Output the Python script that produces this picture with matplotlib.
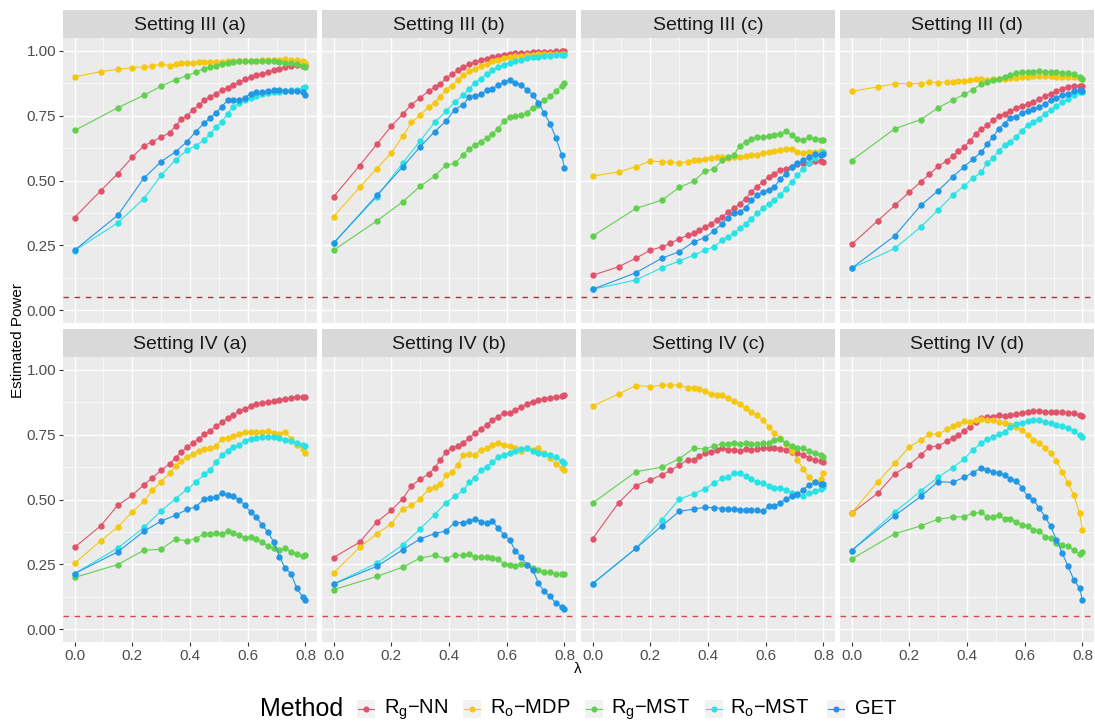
import matplotlib
matplotlib.use('Agg')
import matplotlib.pyplot as plt
from matplotlib.lines import Line2D
from matplotlib.patches import Rectangle

plt.rcParams['font.family'] = ['Liberation Sans', 'DejaVu Sans']
plt.rcParams['mathtext.fontset'] = 'custom'
plt.rcParams['mathtext.rm'] = 'Liberation Sans'
plt.rcParams['mathtext.it'] = 'Liberation Sans:italic'

# lambda grids (R_g-NN / R_o-MDP use the finer one at the start)
lam_a = [0, 0.09, 0.15, 0.2, 0.24, 0.27, 0.3, 0.33, 0.35, 0.37, 0.39, 0.41, 0.43, 0.45, 0.47, 0.49,
         0.51, 0.53, 0.55, 0.57, 0.59, 0.61, 0.63, 0.65, 0.67, 0.69, 0.71, 0.73, 0.75, 0.77, 0.79, 0.8]
lam_b = [0, 0.15, 0.24, 0.3, 0.35, 0.39, 0.42, 0.45, 0.47, 0.49, 0.51, 0.53, 0.55,
         0.57, 0.59, 0.61, 0.63, 0.65, 0.67, 0.69, 0.71, 0.73, 0.75, 0.77, 0.79, 0.8]

methods = [r'$\mathrm{R_g}$' + '\u2212NN', r'$\mathrm{R_o}$' + '\u2212MDP', r'$\mathrm{R_g}$' + '\u2212MST',
           r'$\mathrm{R_o}$' + '\u2212MST', 'GET']
colors = ['#DF536B', '#F5C710', '#61D04F', '#28E2E5', '#2297E6']
titles = ['Setting III (a)', 'Setting III (b)', 'Setting III (c)', 'Setting III (d)',
          'Setting IV (a)', 'Setting IV (b)', 'Setting IV (c)', 'Setting IV (d)']

# ---- Setting III (a)
s3a_nn = [0.357, 0.46, 0.527, 0.59, 0.634, 0.65, 0.667, 0.685, 0.71, 0.738, 0.748, 0.774, 0.79, 0.81, 0.823, 0.835,
          0.848, 0.858, 0.869, 0.88, 0.89, 0.9, 0.907, 0.912, 0.919, 0.925, 0.932, 0.938, 0.943, 0.946, 0.943, 0.945]
s3a_mdp = [0.90, 0.92, 0.929, 0.936, 0.938, 0.941, 0.95, 0.943, 0.948, 0.952, 0.955, 0.955, 0.956, 0.957, 0.957, 0.958,
           0.959, 0.96, 0.96, 0.961, 0.962, 0.962, 0.963, 0.964, 0.965, 0.966, 0.967, 0.968, 0.967, 0.965, 0.962, 0.955]
s3a_gmst = [0.693, 0.781, 0.829, 0.864, 0.889, 0.905, 0.918, 0.932, 0.938, 0.943, 0.951, 0.955, 0.958,
            0.96, 0.96, 0.961, 0.962, 0.962, 0.961, 0.96, 0.958, 0.955, 0.952, 0.948, 0.943, 0.937]
s3a_omst = [0.229, 0.337, 0.43, 0.52, 0.58, 0.617, 0.635, 0.656, 0.68, 0.705, 0.726, 0.758, 0.784,
            0.80, 0.81, 0.82, 0.828, 0.834, 0.838, 0.84, 0.842, 0.845, 0.848, 0.85, 0.856, 0.86]
s3a_get = [0.231, 0.366, 0.509, 0.573, 0.611, 0.65, 0.689, 0.722, 0.743, 0.761, 0.784, 0.81, 0.812,
           0.81, 0.82, 0.835, 0.84, 0.84, 0.845, 0.848, 0.85, 0.845, 0.845, 0.845, 0.84, 0.83]

# ---- Setting III (b)
s3b_nn = [0.437, 0.557, 0.64, 0.71, 0.756, 0.793, 0.819, 0.846, 0.859, 0.871, 0.896, 0.91, 0.925, 0.938, 0.949, 0.956,
          0.964, 0.97, 0.977, 0.982, 0.986, 0.99, 0.991, 0.993, 0.994, 0.995, 0.996, 0.997, 0.997, 0.998, 0.998, 0.998]
s3b_mdp = [0.361, 0.473, 0.546, 0.607, 0.67, 0.724, 0.752, 0.784, 0.80, 0.823, 0.851, 0.866, 0.887, 0.906, 0.922, 0.932,
           0.941, 0.951, 0.96, 0.967, 0.973, 0.976, 0.979, 0.982, 0.984, 0.986, 0.987, 0.988, 0.99, 0.99, 0.99, 0.99]
s3b_gmst = [0.231, 0.344, 0.418, 0.478, 0.517, 0.56, 0.566, 0.60, 0.622, 0.638, 0.65, 0.665, 0.68,
            0.70, 0.728, 0.745, 0.748, 0.752, 0.762, 0.78, 0.79, 0.81, 0.825, 0.845, 0.866, 0.877]
s3b_omst = [0.26, 0.437, 0.568, 0.653, 0.724, 0.767, 0.803, 0.829, 0.855, 0.877, 0.893, 0.91, 0.925,
            0.938, 0.947, 0.955, 0.962, 0.967, 0.972, 0.976, 0.978, 0.98, 0.982, 0.983, 0.984, 0.985]
s3b_get = [0.257, 0.443, 0.553, 0.63, 0.688, 0.73, 0.774, 0.793, 0.823, 0.828, 0.832, 0.848, 0.855,
           0.868, 0.88, 0.887, 0.877, 0.868, 0.85, 0.83, 0.80, 0.76, 0.72, 0.665, 0.60, 0.549]

# ---- Setting III (c)
s3c_nn = [0.134, 0.167, 0.2, 0.231, 0.244, 0.257, 0.275, 0.288, 0.298, 0.308, 0.321, 0.334, 0.347, 0.36, 0.38, 0.392,
          0.411, 0.43, 0.456, 0.476, 0.495, 0.514, 0.527, 0.54, 0.546, 0.553, 0.562, 0.566, 0.569, 0.575, 0.576, 0.572]
s3c_mdp = [0.517, 0.533, 0.553, 0.575, 0.572, 0.571, 0.567, 0.573, 0.578, 0.581, 0.582, 0.585, 0.591, 0.589, 0.585, 0.589,
           0.591, 0.594, 0.598, 0.60, 0.607, 0.61, 0.614, 0.617, 0.623, 0.62, 0.61, 0.607, 0.61, 0.61, 0.614, 0.61]
s3c_gmst = [0.285, 0.392, 0.424, 0.473, 0.497, 0.537, 0.544, 0.578, 0.589, 0.60, 0.634, 0.647, 0.662,
            0.668, 0.666, 0.671, 0.675, 0.681, 0.69, 0.675, 0.662, 0.655, 0.666, 0.662, 0.658, 0.655]
s3c_omst = [0.08, 0.116, 0.163, 0.189, 0.212, 0.231, 0.244, 0.27, 0.283, 0.296, 0.315, 0.334, 0.353,
            0.373, 0.392, 0.411, 0.424, 0.443, 0.469, 0.495, 0.52, 0.546, 0.566, 0.585, 0.604, 0.61]
s3c_get = [0.08, 0.144, 0.2, 0.225, 0.263, 0.28, 0.305, 0.334, 0.357, 0.373, 0.38, 0.392, 0.424,
           0.443, 0.456, 0.463, 0.476, 0.504, 0.527, 0.553, 0.566, 0.578, 0.59, 0.604, 0.598, 0.604]

# ---- Setting III (d)
s3d_nn = [0.253, 0.344, 0.404, 0.455, 0.495, 0.524, 0.555, 0.576, 0.594, 0.613, 0.63, 0.652, 0.681, 0.697, 0.713, 0.733,
          0.748, 0.758, 0.767, 0.778, 0.789, 0.794, 0.803, 0.816, 0.825, 0.835, 0.844, 0.855, 0.861, 0.866, 0.866, 0.864]
s3d_mdp = [0.844, 0.861, 0.874, 0.874, 0.874, 0.88, 0.877, 0.879, 0.882, 0.883, 0.884, 0.887, 0.892, 0.891, 0.889, 0.891,
           0.892, 0.893, 0.895, 0.896, 0.90, 0.90, 0.902, 0.902, 0.902, 0.902, 0.901, 0.90, 0.90, 0.898, 0.896, 0.892]
s3d_gmst = [0.577, 0.70, 0.735, 0.781, 0.81, 0.832, 0.851, 0.871, 0.879, 0.887, 0.893, 0.90, 0.906,
            0.913, 0.918, 0.919, 0.92, 0.922, 0.92, 0.919, 0.918, 0.915, 0.913, 0.91, 0.90, 0.891]
s3d_omst = [0.161, 0.238, 0.321, 0.386, 0.443, 0.479, 0.508, 0.533, 0.569, 0.585, 0.614, 0.636, 0.649,
            0.668, 0.692, 0.713, 0.726, 0.739, 0.758, 0.774, 0.787, 0.803, 0.816, 0.829, 0.842, 0.842]
s3d_get = [0.161, 0.287, 0.404, 0.461, 0.514, 0.553, 0.582, 0.61, 0.64, 0.668, 0.70, 0.72, 0.743,
           0.745, 0.761, 0.769, 0.775, 0.784, 0.794, 0.81, 0.82, 0.829, 0.832, 0.846, 0.848, 0.846]

# ---- Setting IV (a)
s4a_nn = [0.315, 0.398, 0.478, 0.516, 0.557, 0.584, 0.612, 0.638, 0.661, 0.683, 0.702, 0.718, 0.734, 0.751, 0.766, 0.782,
          0.798, 0.814, 0.827, 0.84, 0.85, 0.859, 0.867, 0.872, 0.876, 0.879, 0.884, 0.888, 0.892, 0.897, 0.897, 0.896]
s4a_mdp = [0.253, 0.34, 0.394, 0.452, 0.493, 0.535, 0.569, 0.602, 0.629, 0.648, 0.664, 0.677, 0.689, 0.693, 0.70, 0.705,
           0.734, 0.738, 0.747, 0.754, 0.76, 0.762, 0.76, 0.762, 0.764, 0.756, 0.754, 0.76, 0.734, 0.712, 0.696, 0.68]
s4a_gmst = [0.199, 0.249, 0.304, 0.308, 0.347, 0.34, 0.349, 0.368, 0.366, 0.372, 0.368, 0.377, 0.371,
            0.362, 0.353, 0.356, 0.349, 0.336, 0.32, 0.313, 0.307, 0.311, 0.298, 0.288, 0.282, 0.285]
s4a_omst = [0.214, 0.313, 0.392, 0.456, 0.503, 0.539, 0.567, 0.597, 0.615, 0.644, 0.67, 0.689, 0.702,
            0.712, 0.725, 0.734, 0.738, 0.741, 0.743, 0.741, 0.738, 0.73, 0.725, 0.718, 0.712, 0.706]
s4a_get = [0.214, 0.298, 0.377, 0.417, 0.439, 0.462, 0.471, 0.503, 0.506, 0.51, 0.525, 0.516, 0.513,
           0.497, 0.478, 0.452, 0.433, 0.40, 0.375, 0.336, 0.279, 0.234, 0.214, 0.157, 0.125, 0.114]

# ---- Setting IV (b)
s4b_nn = [0.276, 0.335, 0.413, 0.458, 0.503, 0.553, 0.578, 0.599, 0.621, 0.653, 0.683, 0.70, 0.707, 0.72, 0.737, 0.756,
          0.771, 0.788, 0.807, 0.82, 0.833, 0.835, 0.846, 0.856, 0.869, 0.878, 0.884, 0.887, 0.893, 0.895, 0.90, 0.904]
s4b_mdp = [0.216, 0.315, 0.368, 0.406, 0.464, 0.477, 0.503, 0.54, 0.548, 0.56, 0.594, 0.608, 0.634, 0.672, 0.675, 0.672,
           0.692, 0.698, 0.711, 0.72, 0.711, 0.707, 0.698, 0.689, 0.698, 0.692, 0.698, 0.679, 0.659, 0.638, 0.621, 0.614]
s4b_gmst = [0.152, 0.203, 0.239, 0.274, 0.284, 0.271, 0.287, 0.284, 0.289, 0.278, 0.28, 0.278, 0.276,
            0.27, 0.252, 0.248, 0.242, 0.251, 0.246, 0.235, 0.229, 0.222, 0.219, 0.213, 0.213, 0.213]
s4b_omst = [0.174, 0.254, 0.325, 0.386, 0.441, 0.488, 0.512, 0.535, 0.567, 0.582, 0.612, 0.627, 0.643,
            0.663, 0.672, 0.681, 0.688, 0.695, 0.698, 0.689, 0.681, 0.676, 0.672, 0.663, 0.647, 0.64]
s4b_get = [0.174, 0.242, 0.306, 0.348, 0.368, 0.379, 0.411, 0.411, 0.418, 0.424, 0.415, 0.409, 0.418,
           0.389, 0.364, 0.344, 0.302, 0.278, 0.248, 0.229, 0.177, 0.145, 0.126, 0.10, 0.087, 0.078]

# ---- Setting IV (c)
s4c_nn = [0.348, 0.487, 0.554, 0.576, 0.595, 0.612, 0.632, 0.653, 0.653, 0.666, 0.679, 0.685, 0.692, 0.698, 0.692, 0.692,
          0.689, 0.695, 0.692, 0.694, 0.698, 0.698, 0.70, 0.695, 0.692, 0.685, 0.679, 0.672, 0.662, 0.653, 0.647, 0.643]
s4c_mdp = [0.861, 0.907, 0.94, 0.936, 0.941, 0.942, 0.941, 0.932, 0.929, 0.927, 0.92, 0.907, 0.905, 0.902, 0.891, 0.88,
           0.869, 0.852, 0.839, 0.826, 0.807, 0.781, 0.758, 0.737, 0.715, 0.689, 0.653, 0.617, 0.586, 0.566, 0.578, 0.602]
s4c_gmst = [0.486, 0.607, 0.625, 0.657, 0.697, 0.695, 0.707, 0.715, 0.713, 0.72, 0.715, 0.717, 0.715,
            0.715, 0.717, 0.72, 0.728, 0.733, 0.717, 0.707, 0.70, 0.698, 0.688, 0.681, 0.672, 0.663]
s4c_omst = [0.175, 0.311, 0.422, 0.501, 0.522, 0.541, 0.563, 0.582, 0.586, 0.602, 0.602, 0.589, 0.578,
            0.569, 0.563, 0.553, 0.546, 0.544, 0.535, 0.524, 0.518, 0.514, 0.524, 0.531, 0.54, 0.548]
s4c_get = [0.175, 0.311, 0.398, 0.454, 0.463, 0.47, 0.469, 0.465, 0.464, 0.463, 0.461, 0.46, 0.458,
           0.458, 0.454, 0.473, 0.473, 0.488, 0.501, 0.512, 0.522, 0.537, 0.557, 0.566, 0.56, 0.56]

# ---- Setting IV (d)
s4d_nn = [0.447, 0.524, 0.599, 0.634, 0.672, 0.702, 0.707, 0.724, 0.737, 0.749, 0.765, 0.781, 0.80, 0.814, 0.817, 0.82,
          0.826, 0.823, 0.825, 0.83, 0.835, 0.839, 0.842, 0.843, 0.839, 0.838, 0.837, 0.837, 0.835, 0.833, 0.826, 0.823]
s4d_mdp = [0.447, 0.567, 0.64, 0.702, 0.73, 0.752, 0.752, 0.771, 0.784, 0.792, 0.803, 0.80, 0.807, 0.81, 0.807, 0.805,
           0.80, 0.794, 0.788, 0.781, 0.769, 0.749, 0.73, 0.717, 0.698, 0.679, 0.647, 0.608, 0.563, 0.518, 0.447, 0.383]
s4d_gmst = [0.27, 0.368, 0.398, 0.424, 0.432, 0.434, 0.447, 0.45, 0.434, 0.432, 0.441, 0.424, 0.424,
            0.415, 0.402, 0.398, 0.383, 0.379, 0.357, 0.351, 0.334, 0.325, 0.319, 0.306, 0.29, 0.299]
s4d_omst = [0.303, 0.452, 0.533, 0.586, 0.623, 0.656, 0.692, 0.717, 0.734, 0.74, 0.753, 0.762, 0.779,
            0.792, 0.797, 0.803, 0.807, 0.805, 0.80, 0.794, 0.788, 0.784, 0.775, 0.766, 0.749, 0.743]
s4d_get = [0.303, 0.438, 0.512, 0.569, 0.566, 0.586, 0.604, 0.621, 0.614, 0.608, 0.602, 0.595, 0.578,
           0.573, 0.546, 0.512, 0.499, 0.467, 0.434, 0.396, 0.344, 0.293, 0.242, 0.19, 0.158, 0.113]

panels = [
    [s3a_nn, s3a_mdp, s3a_gmst, s3a_omst, s3a_get],
    [s3b_nn, s3b_mdp, s3b_gmst, s3b_omst, s3b_get],
    [s3c_nn, s3c_mdp, s3c_gmst, s3c_omst, s3c_get],
    [s3d_nn, s3d_mdp, s3d_gmst, s3d_omst, s3d_get],
    [s4a_nn, s4a_mdp, s4a_gmst, s4a_omst, s4a_get],
    [s4b_nn, s4b_mdp, s4b_gmst, s4b_omst, s4b_get],
    [s4c_nn, s4c_mdp, s4c_gmst, s4c_omst, s4c_get],
    [s4d_nn, s4d_mdp, s4d_gmst, s4d_omst, s4d_get],
]

W, H = 1095, 723
fig = plt.figure(figsize=(W / 100, H / 100), dpi=100)
fig.patch.set_facecolor('white')


def box(x0, y0, w, h):
    # pixel box (y from top) -> figure fraction
    return [x0 / W, 1 - (y0 + h) / H, w / W, h / H]


col_x = [63, 322, 581, 840]
pw = 254
row_strip = [10, 329]
strip_h = 28
ph = 285
hline_col = ['#A33A3A', '#D04848']

for k in range(8):
    r, c = divmod(k, 4)
    x0 = col_x[c]
    ys = row_strip[r]
    ax = fig.add_axes(box(x0, ys + strip_h, pw, ph))
    ax.set_facecolor('#EBEBEB')
    for s in ax.spines.values():
        s.set_visible(False)
    ax.set_xlim(-0.04, 0.84)
    ax.set_ylim(-0.05, 1.05)
    ax.set_xticks([0, 0.2, 0.4, 0.6, 0.8])
    ax.set_xticks([0.1, 0.3, 0.5, 0.7], minor=True)
    ax.set_yticks([0, 0.25, 0.5, 0.75, 1.0])
    ax.set_yticks([0.125, 0.375, 0.625, 0.875], minor=True)
    ax.grid(which='major', color='white', lw=1.0)
    ax.grid(which='minor', color='white', lw=0.5)
    ax.set_axisbelow(True)
    ax.tick_params(which='minor', length=0)
    ax.tick_params(which='major', length=3, width=0.8, color='#333333',
                   labelsize=11, labelcolor='#4D4D4D', pad=2)
    if c == 0:
        ax.set_yticklabels(['0.00', '0.25', '0.50', '0.75', '1.00'])
    else:
        ax.tick_params(axis='y', length=0, labelleft=False)
    if r == 1:
        ax.set_xticklabels(['0.0', '0.2', '0.4', '0.6', '0.8'])
    else:
        ax.tick_params(axis='x', length=0, labelbottom=False)

    ax.axhline(0.05, color=hline_col[r], lw=1.0, ls=(0, (4, 4)), zorder=1)
    for i, ys_ in enumerate(panels[k]):
        xs = lam_a if i < 2 else lam_b
        ax.plot(xs, ys_, color=colors[i], lw=0.8, marker='o', ms=4.6, mew=0, zorder=2 + i)

    sax = fig.add_axes(box(x0, ys, pw, strip_h))
    sax.set_facecolor('#D9D9D9')
    sax.set_xticks([])
    sax.set_yticks([])
    for s in sax.spines.values():
        s.set_visible(False)
    sax.text(0.5, 0.46, titles[k], ha='center', va='center', fontsize=14, color='#1A1A1A',
             transform=sax.transAxes)

# axis titles
fig.text(18 / W, 1 - 340 / H, 'Estimated Power', rotation=90, ha='center', va='center',
         fontsize=11, color='black')
fig.text(578 / W, 1 - 669 / H, '\u03bb', ha='center', va='center', fontsize=11, color='black')

# legend (ggplot style, drawn by hand)
cy = 709
fig.text(260 / W, 1 - (cy + 7) / H, 'Method', ha='left', va='baseline', fontsize=18, color='black')
key_cx = [366, 472, 594, 714, 836]
lab_x = [384, 490, 611, 730, 855]
for i in range(5):
    cx = key_cx[i]
    fig.add_artist(Rectangle(((cx - 9) / W, 1 - (cy + 9) / H), 18 / W, 18 / H,
                             transform=fig.transFigure, facecolor='#F2F2F2', edgecolor='none'))
    fig.add_artist(Line2D([(cx - 8) / W, (cx + 8) / W], [1 - cy / H, 1 - cy / H],
                          transform=fig.transFigure, color=colors[i], lw=0.8))
    fig.add_artist(Line2D([cx / W], [1 - cy / H], transform=fig.transFigure, color=colors[i],
                          marker='o', ms=4.4, mew=0, lw=0))
    fig.text(lab_x[i] / W, 1 - (cy + 5) / H, methods[i], ha='left', va='baseline', fontsize=14.5,
             color='black')

fig.savefig('out.png', dpi=100)
